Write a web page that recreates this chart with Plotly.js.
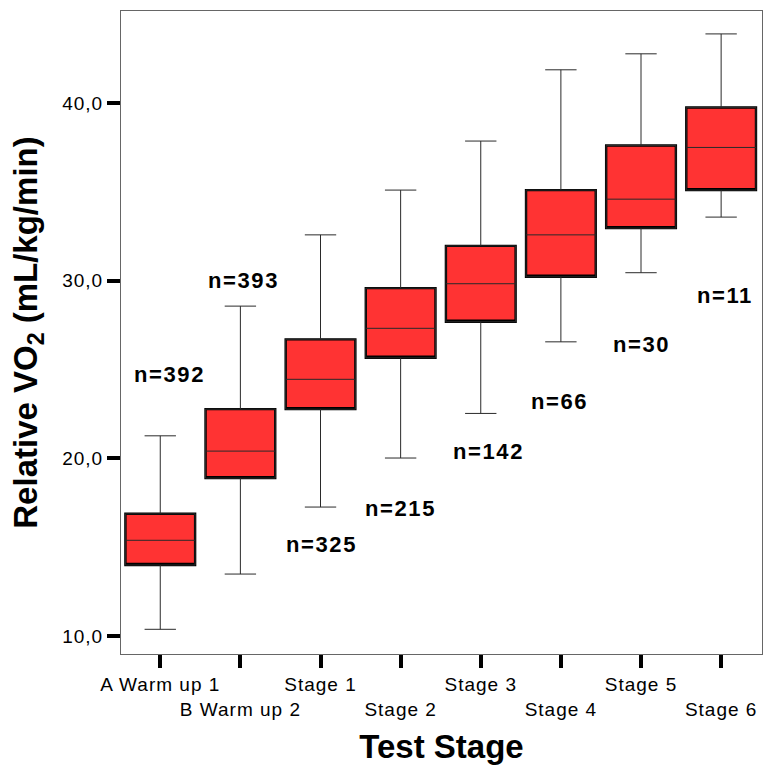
<!DOCTYPE html>
<html>
<head>
<meta charset="utf-8">
<script src="https://cdn.plot.ly/plotly-3.0.1.min.js"></script>
<style>
  html, body { margin: 0; padding: 0; background: #fff; }
  #chart { width: 764px; height: 765px; }
  .annotation-text { letter-spacing: 1.6px; }
  .xtick text, .ytick text { letter-spacing: 1px; }
</style>
</head>
<body>
<div id="chart"></div>
<script>
// ---- data ----
var categories = ["A Warm up 1", "B Warm up 2", "Stage 1", "Stage 2", "Stage 3", "Stage 4", "Stage 5", "Stage 6"];
var lowerWhisker = [10.38, 13.49, 17.26, 20.02, 22.53, 26.56, 30.45, 33.58];
var q1Values     = [14.00, 18.89, 22.77, 25.66, 27.69, 30.22, 32.96, 35.10];
var medianValues = [15.39, 20.41, 24.45, 27.32, 29.83, 32.58, 34.59, 37.50];
var q3Values     = [16.88, 22.77, 26.70, 29.58, 31.96, 35.10, 37.61, 39.75];
var upperWhisker = [21.27, 28.57, 32.58, 35.10, 37.86, 41.87, 42.77, 43.89];
var sampleSizes  = [392, 393, 325, 215, 142, 66, 30, 11];
var yTickValues  = [10, 20, 30, 40];

// ---- label placement (layout, not data) ----
var labelY  = [24.74, 30.0, 15.18, 17.2, 20.37, 23.2, 26.4, 29.15];
var labelDx = [0.11, 0.04, 0.01, 0.0, 0.10, -0.02, 0.0, 0.05];

var FONT = "Liberation Sans, Arial, sans-serif";
var BOXW = 0.87;

// thick outlined boxes (Q1..Q3 only)
var thick = {
  type: "box", x: categories,
  q1: q1Values, median: q1Values, q3: q3Values,
  lowerfence: q1Values, upperfence: q3Values,
  width: BOXW, whiskerwidth: 0,
  fillcolor: "#ff3333",
  line: { color: "#000000", width: 2.4 },
  boxpoints: false, hoverinfo: "skip", showlegend: false
};
// thin whiskers + median on top
var thin = {
  type: "box", x: categories,
  q1: q1Values, median: medianValues, q3: q3Values,
  lowerfence: lowerWhisker, upperfence: upperWhisker,
  width: BOXW, whiskerwidth: 0.45,
  fillcolor: "rgba(0,0,0,0)",
  line: { color: "#2a2a2a", width: 1 },
  boxpoints: false, hoverinfo: "skip", showlegend: false
};

var tickText = categories.map(function (c, i) { return i % 2 === 1 ? "<br>" + c : c; });

var annotations = sampleSizes.map(function (n, i) {
  return {
    x: i + labelDx[i], y: labelY[i], xref: "x", yref: "y",
    text: "<b>n=" + n + "</b>", showarrow: false,
    font: { family: FONT, size: 22, color: "#000" },
    xanchor: "center", yanchor: "middle"
  };
});

var layout = {
  width: 764, height: 765,
  margin: { l: 121, r: 2, t: 11, b: 111 },
  paper_bgcolor: "#ffffff", plot_bgcolor: "#ffffff",
  separators: ",.",
  boxmode: "overlay",
  showlegend: false,
  font: { family: FONT, color: "#000" },
  xaxis: {
    type: "category",
    range: [-0.49, 7.51],
    tickvals: categories, ticktext: tickText,
    ticks: "outside", ticklen: 13, tickwidth: 4, tickcolor: "#000",
    showline: true, linecolor: "#666", linewidth: 1, mirror: true,
    showgrid: false, zeroline: false,
    tickangle: 0,
    tickfont: { family: FONT, size: 19, color: "#000" },
    title: { text: "<b>Test Stage</b>", font: { family: FONT, size: 33, color: "#000" }, standoff: 20 }
  },
  yaxis: {
    range: [8.99, 45.18],
    tickvals: yTickValues, tickformat: ".1f",
    ticks: "outside", ticklen: 13, tickwidth: 4, tickcolor: "#000",
    showline: true, linecolor: "#666", linewidth: 1, mirror: true,
    showgrid: false, zeroline: false,
    tickfont: { family: FONT, size: 19, color: "#000" },
    title: { text: "<b>Relative VO<sub>2</sub> (mL/kg/min)</b>", font: { family: FONT, size: 33, color: "#000" }, standoff: 14 }
  },
  annotations: annotations
};

Plotly.newPlot("chart", [thick, thin], layout, { staticPlot: true, displayModeBar: false });
</script>
</body>
</html>
